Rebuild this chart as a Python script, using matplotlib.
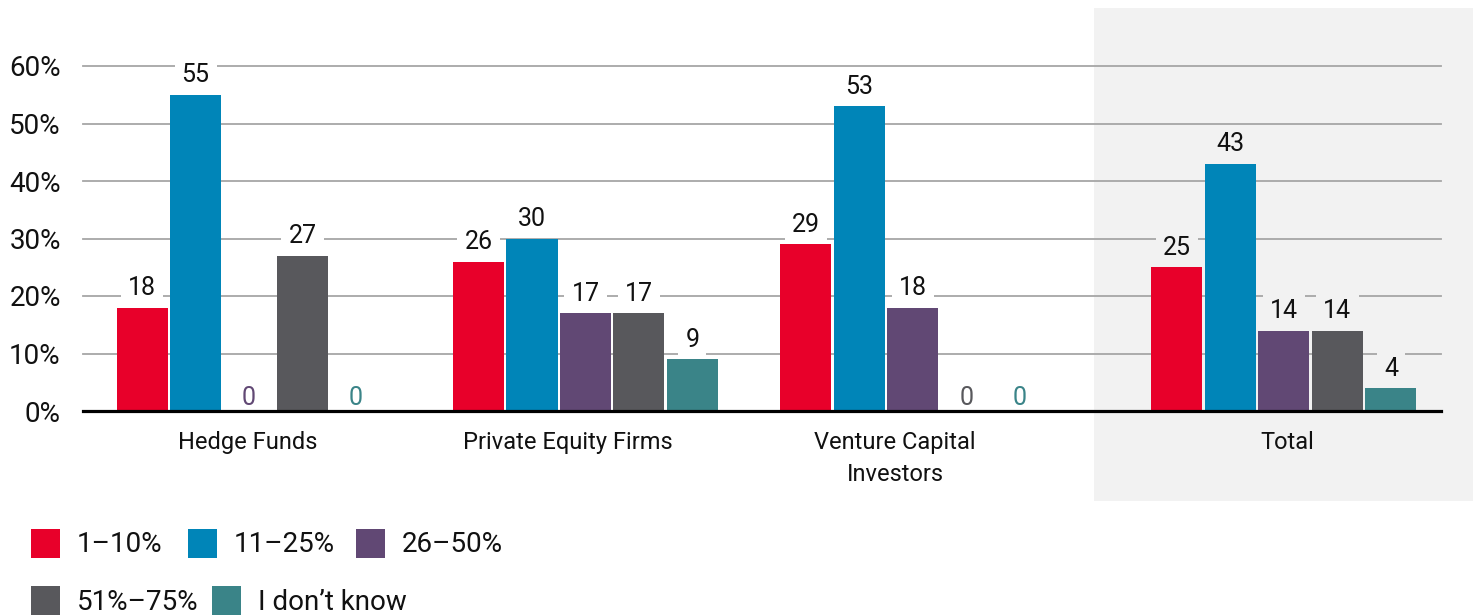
import matplotlib
matplotlib.use('Agg')
import matplotlib.pyplot as plt
from matplotlib.patches import Rectangle

plt.rcParams['font.family'] = ['Roboto', 'DejaVu Sans']

# data
categories = ['Hedge Funds', 'Private Equity Firms', 'Venture Capital\nInvestors', 'Total']
series = ['1\u201310%', '11\u201325%', '26\u201350%', '51%\u201375%', 'I don\u2019t know']
colors = ['#E8002A', '#0085B8', '#614874', '#58585C', '#3A8488']
v_1_10 = [18, 26, 29, 25]
v_11_25 = [55, 30, 53, 43]
v_26_50 = [0, 17, 18, 14]
v_51_75 = [27, 17, 0, 14]
v_dont_know = [0, 9, 0, 4]
values = [v_1_10, v_11_25, v_26_50, v_51_75, v_dont_know]
yticks = [0, 10, 20, 30, 40, 50, 60]

W, H = 1473, 615
fig = plt.figure(figsize=(W / 100, H / 100), dpi=100)


def fx(x):
    return x / W


def fy(y):
    return 1 - y / H


# axes placement (pixels from reference)
ax_l, ax_r, ax_t, ax_b = 83, 1441, 66, 411
ax = fig.add_axes([fx(ax_l), fy(ax_b), fx(ax_r - ax_l), (ax_b - ax_t) / H])
ax.set_facecolor('none')

# shaded "Total" panel
fig.patches.append(Rectangle((fx(1094), fy(501)), fx(W - 1094), (501 - 8) / H,
                             transform=fig.transFigure, facecolor='#F2F2F2',
                             edgecolor='none', zorder=-5))

pitch = 53.5
group_x = [(249 - ax_l) / pitch, (585.5 - ax_l) / pitch, (913 - ax_l) / pitch, (1284 - ax_l) / pitch]
label_x = [(248 - ax_l) / pitch, (568 - ax_l) / pitch, (895 - ax_l) / pitch, (1287 - ax_l) / pitch]
bw = 51 / pitch

for i, (vals, c) in enumerate(zip(values, colors)):
    xs = [g + (i - 2) for g in group_x]
    ax.bar(xs, vals, width=bw, color=c, linewidth=0, zorder=3)
    for j, (x, v) in enumerate(zip(xs, vals)):
        bg = '#F2F2F2' if j == 3 else 'white'
        off = 4.5 if v == 0 else 9
        ax.annotate(str(v), (x, v), xytext=(0, off), textcoords='offset points',
                    ha='center', va='baseline', fontsize=18,
                    color=c if v == 0 else '#111111', zorder=2.5,
                    bbox=dict(facecolor=bg, edgecolor='none', pad=5))

ax.set_xlim(0, (ax_r - ax_l) / pitch)
ax.set_ylim(0, 60)
for y in yticks[1:]:
    ax.axhline(y, color='#A6A6A6', lw=1.3, zorder=0.5, clip_on=False)
ax.axhline(0, color='black', lw=2.3, zorder=4, clip_on=False)

ax.set_yticks(yticks)
ax.set_yticklabels([f'{t}%' for t in yticks], fontsize=20, color='#111111')
ax.set_xticks(label_x)
ax.set_xticklabels(categories, fontsize=17, color='#111111', linespacing=1.5)
ax.tick_params(axis='both', length=0)
ax.tick_params(axis='y', pad=16)
ax.tick_params(axis='x', pad=14.5)
for s in ax.spines.values():
    s.set_visible(False)

# legend (flow layout as in reference)
legend_pos = [(31, 529), (188, 529), (356, 529), (31, 586), (212, 586)]
for (px, py), name, c in zip(legend_pos, series, colors):
    fig.patches.append(Rectangle((fx(px), fy(py + 29)), fx(29), 29 / H,
                                 transform=fig.transFigure, facecolor=c, edgecolor='none'))
    fig.text(fx(px + 46), fy(py + 16), name, fontsize=20, va='center', ha='left', color='#111111')

fig.savefig('out.png', dpi=100)
